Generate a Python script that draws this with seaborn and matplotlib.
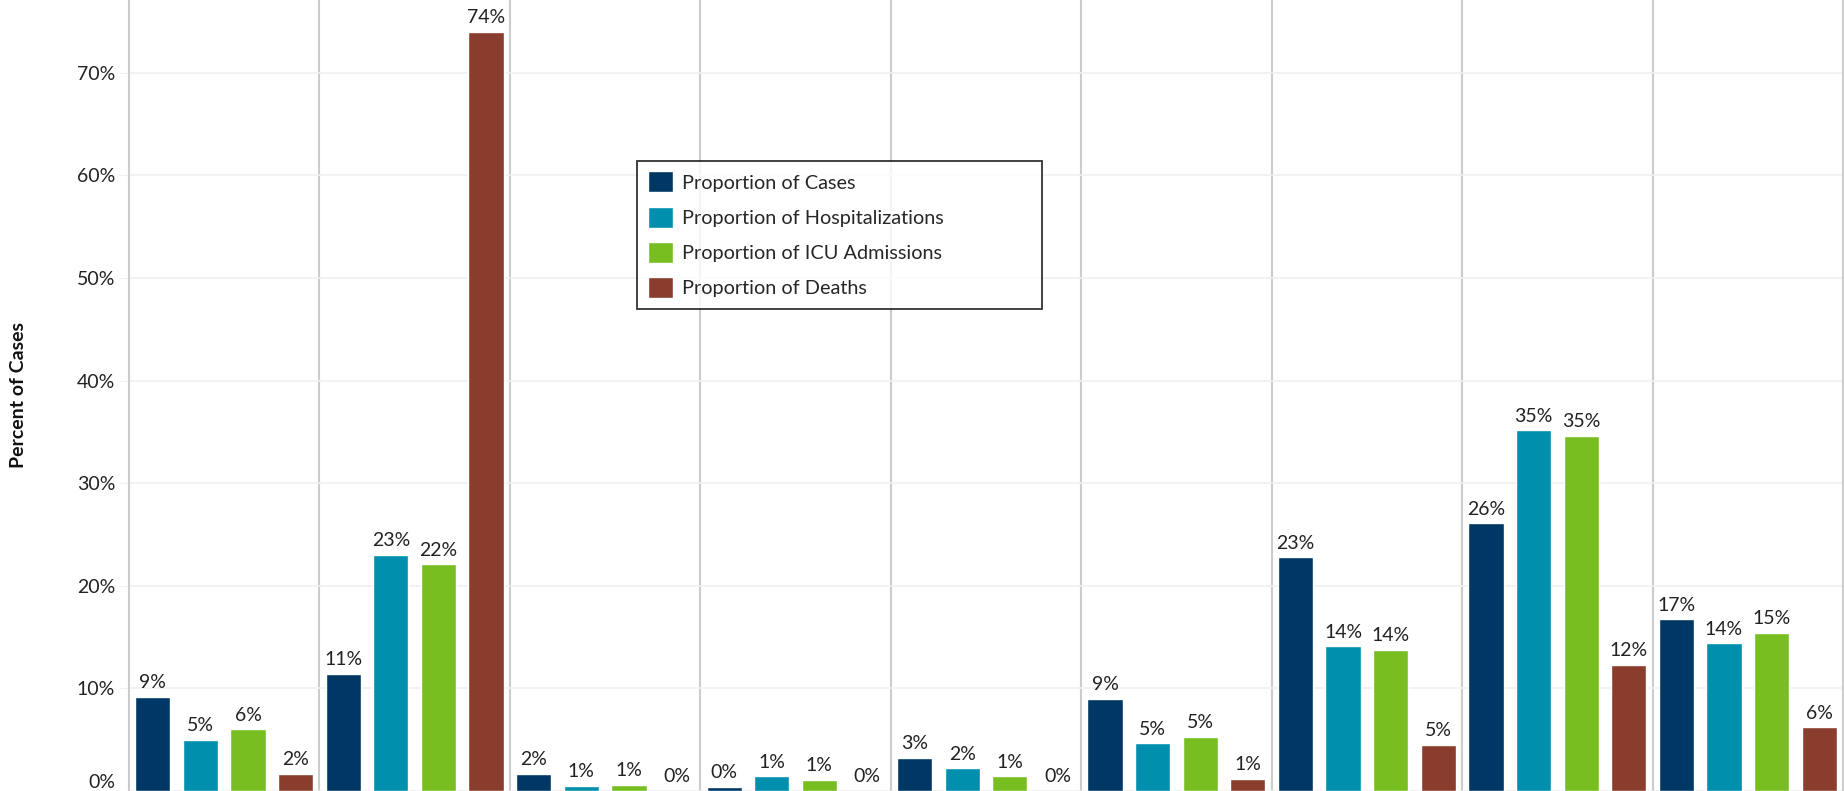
import matplotlib
matplotlib.use("Agg")
import matplotlib.pyplot as plt
import numpy as np
import pandas as pd
import seaborn as sns

# groups (category names are cropped out of the reference, kept as placeholders)
groups = ["G1", "G2", "G3", "G4", "G5", "G6", "G7", "G8", "G9"]
measures = ["Proportion of Cases", "Proportion of Hospitalizations",
            "Proportion of ICU Admissions", "Proportion of Deaths"]

cases = [9.2, 11.4, 1.66, 0.4, 3.26, 8.97, 22.8, 26.1, 16.74]
hosp = [4.97, 23.03, 0.51, 1.43, 2.23, 4.63, 14.11, 35.14, 14.4]
icu = [6.0, 22.11, 0.63, 1.09, 1.45, 5.31, 13.77, 34.6, 15.4]
deaths = [1.66, 74.0, 0.0, 0.0, 0.0, 1.2, 4.51, 12.29, 6.23]

colors = ["#003865", "#0090AD", "#78BE21", "#8A3D2D"]

# long table for seaborn
df = pd.DataFrame({
    "group": groups * 4,
    "measure": np.repeat(measures, len(groups)),
    "value": cases + hosp + icu + deaths,
})

sns.set_style("white")
plt.rcParams["font.family"] = ["Lato", "DejaVu Sans"]

fig = plt.figure(figsize=(18.44, 7.91), dpi=100)
ax = fig.add_axes([129 / 1844, 0, 1714 / 1844, 1])

sns.barplot(data=df, x="group", y="value", hue="measure", palette=colors,
            width=1.0, gap=0.26, saturation=1, errorbar=None, ax=ax)

# value labels over each bar
for c in ax.containers:
    ax.bar_label(c, labels=[f"{v:.0f}%" for v in c.datavalues],
                 padding=4, fontsize=14, color="#222222")

ax.set_xlim(-0.5, len(groups) - 0.5)
ax.set_ylim(0, 77.1)
ax.set_yticks(np.arange(0, 80, 10))
ax.set_yticklabels([f"{t}%" for t in range(0, 80, 10)])
ax.yaxis.grid(True, color="#f0f0f0", lw=1.2)
ax.set_axisbelow(True)
ax.tick_params(axis="y", length=7, color="#f0f0f0", pad=3, labelsize=14,
               labelcolor="#222222", left=True)
ax.tick_params(axis="x", bottom=False, labelbottom=False)
ax.set_xlabel("")
ax.set_ylabel("")
ax.get_yticklabels()[0].set_verticalalignment("bottom")

# group separators
for i in range(len(groups) - 1):
    ax.axvline(i + 0.5, color="#cccccc", lw=1.5, zorder=0.5)
for s in ["left", "right"]:
    ax.spines[s].set_color("#cccccc")
    ax.spines[s].set_linewidth(1.5)
for s in ["top", "bottom"]:
    ax.spines[s].set_visible(False)

fig.text(18 / 1844, 0.5, "Percent of Cases", rotation=90, ha="center",
         va="center", fontsize=14, fontweight="bold", color="#111111")

leg = ax.legend(loc="upper left", bbox_to_anchor=(0.2964, 0.697, 0.236, 0.1),
                mode="expand", frameon=True, fancybox=False, fontsize=14.3,
                handlelength=1.24, handleheight=1.24, handletextpad=0.45,
                labelspacing=0.72, borderpad=0.55, borderaxespad=0)
leg.get_frame().set_edgecolor("#000000")
leg.get_frame().set_linewidth(1.3)

fig.savefig("out.png", dpi=100)
